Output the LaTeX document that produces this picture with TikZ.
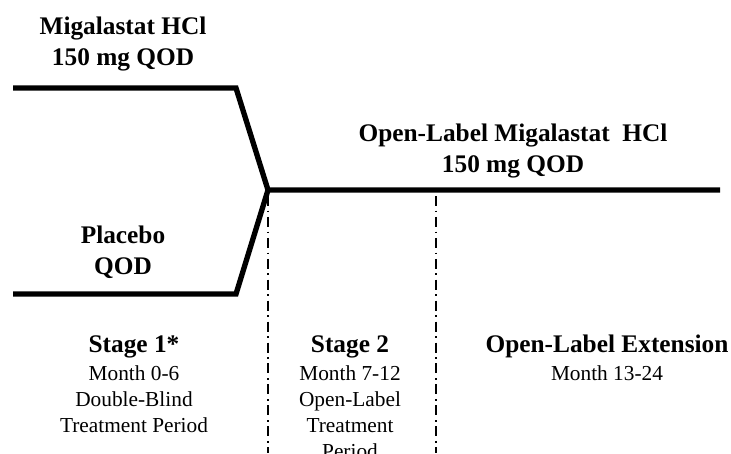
\documentclass[tikz,border=0pt]{standalone}
\usepackage{fontspec}
\setmainfont{Liberation Serif}
\usepackage{tikz}
\usetikzlibrary{positioning}

\begin{document}
\begin{tikzpicture}[x=0.75pt,y=0.75pt,yscale=-1,xscale=1,
  arm/.style={line width=4pt},
  divider/.style={line width=1.1pt,dash pattern=on 7.5pt off 3.5pt on 1.2pt off 3.5pt},
  armlabel/.style={anchor=north,inner sep=0pt,align=center,font=\bfseries\fontsize{19}{23}\selectfont},
  stagelabel/.style={anchor=north,inner sep=0pt,align=center,font=\fontsize{16}{19.5}\selectfont}]
%set diagram left start at 0, and has height of 453
\useasboundingbox (0,0) rectangle (731,453);
\clip (0,0) rectangle (731,453);

%Coordinates of the arms
\coordinate (topStart) at (13,88);
\coordinate (topBend) at (236,88);
\coordinate (merge) at (268,190);
\coordinate (lowStart) at (13,294);
\coordinate (lowBend) at (236,294);
\coordinate (mainEnd) at (720,190);
\coordinate (divOneTop) at (268,196);
\coordinate (divOneBot) at (268,453);
\coordinate (divTwoTop) at (436,196);
\coordinate (divTwoBot) at (436,453);

%Straight Lines: drug arm and open-label line
\draw [arm] (topStart) -- (topBend) -- (merge) -- (mainEnd);
%Straight Lines: placebo arm
\draw [arm] (lowStart) -- (lowBend) -- (merge);
%Dash-dot dividers
\draw [divider] (divOneTop) -- (divOneBot);
\draw [divider] (divTwoTop) -- (divTwoBot);

% Text Node
\node (drugArm) [armlabel] at (123,17) {Migalastat HCl\\150 mg QOD};
% Text Node
\node (placeboArm) [armlabel] at (123,226) {Placebo\\QOD};
% Text Node
\node (openArm) [armlabel] at (513,124) {Open-Label Migalastat\ \ HCl\\150 mg QOD};
% Text Node
\node (stageOne) [stagelabel] at (134,335) {{\bfseries\fontsize{19}{23}\selectfont Stage 1*}\\[1.5pt]Month 0-6\\Double-Blind\\Treatment Period};
% Text Node
\node (stageTwo) [stagelabel] at (350,335) {{\bfseries\fontsize{19}{23}\selectfont Stage 2}\\[1.5pt]Month 7-12\\Open-Label\\Treatment\\Period};
% Text Node
\node (extension) [stagelabel] at (607,335) {{\bfseries\fontsize{19}{23}\selectfont Open-Label Extension}\\[1.5pt]Month 13-24};

\end{tikzpicture}
\end{document}
